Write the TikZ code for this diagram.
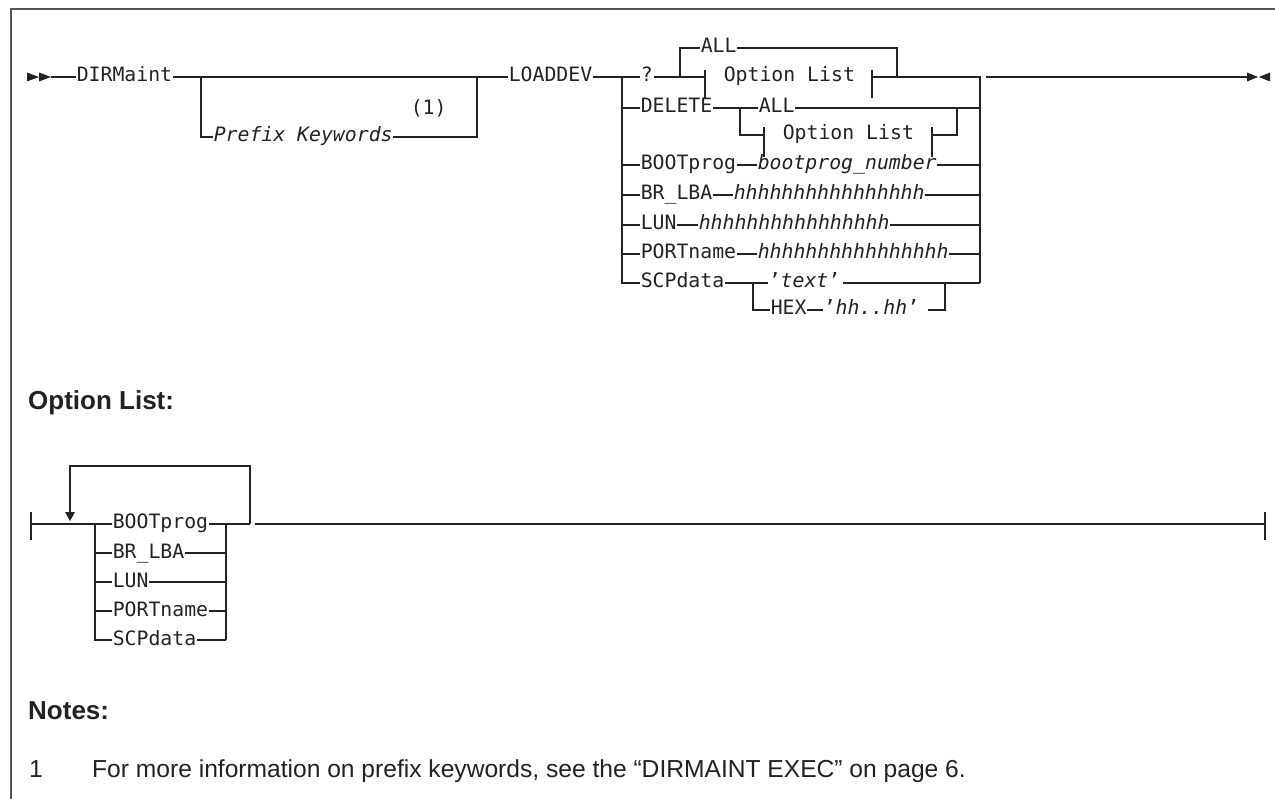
\documentclass[tikz,border=0pt]{standalone}
\usepackage{fontspec}
\setmainfont{Liberation Sans}
\newfontfamily\ibmmono{DejaVu Sans Mono}
\definecolor{ink}{HTML}{222222}
\definecolor{framecol}{HTML}{555555}
\tikzset{
  kw/.style={anchor=west, inner xsep=0.6pt, inner ysep=0pt, text height=14pt, text depth=4pt,
             font=\ibmmono\fontsize{19.8}{24}\selectfont, text=ink},
  var/.style={kw, font=\ibmmono\itshape\fontsize{19.8}{24}\selectfont},
  rail/.style={draw=ink, line width=1.5pt},
  headline/.style={anchor=base west, inner sep=0pt, font=\bfseries\fontsize{26}{30}\selectfont, text=ink},
  notetext/.style={anchor=base west, inner sep=0pt, font=\fontsize{24.6}{28}\selectfont, text=ink}
}
\begin{document}
\begin{tikzpicture}[x=1pt,y=-1pt]
\useasboundingbox (0,0) rectangle (1275,799);
% frame
\draw[framecol, line width=2pt] (11,799) -- (11,9) -- (1275,9);

% ---------- main diagram ----------
\fill[ink] (27,72.5) -- (39,77) -- (27,81.5) -- cycle;
\fill[ink] (39,72.5) -- (51,77) -- (39,81.5) -- cycle;
\coordinate (start) at (51,77);
\node[kw] (dirm) at (76,77) {DIRMaint};
\node[var] (pfx) at (213,137) {Prefix Keywords};
\node[kw] (fn1) at (410,110) {(1)};
\coordinate (b1) at (201,77);
\coordinate (m1) at (477,77);
\draw[rail] (start) -- (dirm.west);
\draw[rail] (dirm.east) -- (m1);
\draw[rail] (b1) |- (pfx.west);
\draw[rail] (pfx.east) -| (m1);

\node[kw] (load) at (508,77) {LOADDEV};
\draw[rail] (m1) -- (load.west);
\coordinate (v1) at (622,77);
\coordinate (v2) at (980,77);
\coordinate (v2b) at (980,283);

% ? row
\node[kw] (q) at (640,77) {?};
\coordinate (b2) at (680,77);
\coordinate (t1) at (705,77);
\node[kw] (all1) at (700,48) {ALL};
\node[kw] (ol1) at (723,77) {Option List};
\coordinate (t2) at (872,77);
\coordinate (j2) at (897,77);
\draw[rail] (load.east) -- (v1) -- (q.west);
\draw[rail] (q.east) -- (t1);
\draw[rail] ([yshift=7pt]t1) -- ([yshift=-21pt]t1);
\draw[rail] (b2) |- (all1.west);
\draw[rail] (all1.east) -| (j2);
\draw[rail] ([yshift=7pt]t2) -- ([yshift=-21pt]t2);
\draw[rail] (t2) -- (v2) -- (v2b);
\coordinate (endm) at (1247,77);
\draw[rail] ([xshift=6pt]v2) -- (endm);
\fill[ink] (1247,72.5) -- (1258,77) -- (1247,81.5) -- cycle;
\fill[ink] (1270,72.5) -- (1259,77) -- (1270,81.5) -- cycle;

% DELETE row
\node[kw] (del) at (640,108) {DELETE};
\coordinate (b3) at (740,108);
\node[kw] (all2) at (758,108) {ALL};
\coordinate (t3) at (764,135);
\node[kw] (ol2) at (782,135) {Option List};
\coordinate (t4) at (932,135);
\coordinate (j3) at (957,108);
\draw[rail] (v1 |- del.west) -- (del.west);
\draw[rail] (del.east) -- (b3) -- (all2.west);
\draw[rail] (all2.east) -- (v2 |- all2.east);
\draw[rail] (b3) |- (t3);
\draw[rail] ([yshift=8pt]t3) -- ([yshift=-22pt]t3);
\draw[rail] ([yshift=8pt]t4) -- ([yshift=-22pt]t4);
\draw[rail] (t4) -| (j3);

% BOOTprog row
\node[kw] (boot) at (640,165) {BOOTprog};
\node[var] (bootn) at (757,165) {bootprog\_number};
\draw[rail] (v1 |- boot.west) -- (boot.west);
\draw[rail] (boot.east) -- (bootn.west);
\draw[rail] (bootn.east) -- (v2 |- bootn.east);

% BR_LBA row
\node[kw] (brl) at (640,195) {BR\_LBA};
\node[var] (brlh) at (733,195) {hhhhhhhhhhhhhhhh};
\draw[rail] (v1 |- brl.west) -- (brl.west);
\draw[rail] (brl.east) -- (brlh.west);
\draw[rail] (brlh.east) -- (v2 |- brlh.east);

% LUN row
\node[kw] (lun) at (640,225) {LUN};
\node[var] (lunh) at (698,225) {hhhhhhhhhhhhhhhh};
\draw[rail] (v1 |- lun.west) -- (lun.west);
\draw[rail] (lun.east) -- (lunh.west);
\draw[rail] (lunh.east) -- (v2 |- lunh.east);

% PORTname row
\node[kw] (port) at (640,254) {PORTname};
\node[var] (porth) at (757,254) {hhhhhhhhhhhhhhhh};
\draw[rail] (v1 |- port.west) -- (port.west);
\draw[rail] (port.east) -- (porth.west);
\draw[rail] (porth.east) -- (v2 |- porth.east);

% SCPdata row
\node[kw] (scp) at (640,283) {SCPdata};
\coordinate (b4) at (753,283);
\node[kw] (txt) at (768,283) {’\textit{text}’};
\coordinate (txte) at (843,283);
\node[kw] (hex) at (770,310) {HEX};
\node[kw] (hh) at (823,310) {’\textit{hh..hh}’};
\coordinate (hhe) at (928,310);
\coordinate (j4) at (945,283);
\draw[rail] (v1) |- (scp.west);
\draw[rail] (scp.east) -- (b4) -- (txt.west);
\draw[rail] (txte) -- (v2b);
\draw[rail] (b4) |- (hex.west);
\draw[rail] (hex.east) -- (hh.west);
\draw[rail] (hhe) -| (j4);

% ---------- Option List fragment ----------
\node[headline] (olh) at (28,410) {Option List:};
\coordinate (os) at (31,524);
\coordinate (oa) at (70,524);
\coordinate (ob) at (95,524);
\coordinate (oj) at (226,524);
\coordinate (orr) at (250,524);
\coordinate (oe) at (1265,524);
\coordinate (loopR) at (250,466);
\coordinate (loopL) at (70,466);
\draw[rail] ([yshift=12pt]os) -- ([yshift=-16pt]os);
\draw[rail] (os) -- (ob);
\draw[rail] (orr) -- (loopR) -- (loopL) -- ([yshift=12pt]oa);
\fill[ink] (65,512) -- (75,512) -- (70,521) -- cycle;

\node[kw] (oboot) at (112,524) {BOOTprog};
\node[kw] (obrl) at (112,553) {BR\_LBA};
\node[kw] (olun) at (112,582) {LUN};
\node[kw] (oport) at (112,611) {PORTname};
\node[kw] (oscp) at (112,640) {SCPdata};
\draw[rail] (ob) |- (oscp.west);
\foreach \n in {oboot,obrl,olun,oport,oscp}{
  \draw[rail] (ob |- \n.west) -- (\n.west);
  \draw[rail] (\n.east) -- (oj |- \n.east);
}
\draw[rail] (oj) -- (oj |- oscp.east);
\draw[rail] (oj) -- (orr);
\draw[rail] ([xshift=5pt]orr) -- (oe);
\draw[rail] ([yshift=12pt]oe) -- ([yshift=-16pt]oe);

% ---------- Notes ----------
\node[headline] (notes) at (28,719) {Notes:};
\node[notetext] (nnum) at (29,777) {1};
\node[notetext] (ntxt) at (92,777) {For more information on prefix keywords, see the “DIRMAINT EXEC” on page 6.};
\end{tikzpicture}
\end{document}
